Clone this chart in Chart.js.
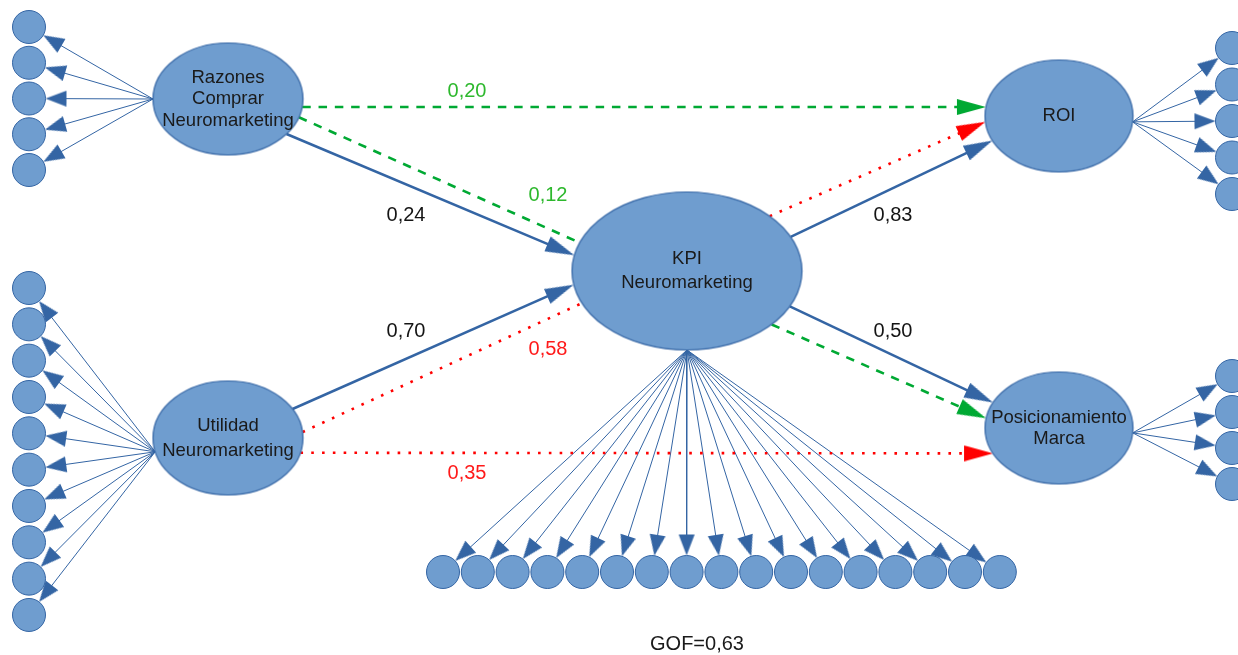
<!DOCTYPE html>
<html>
<head>
<meta charset="utf-8">
<script src="https://cdn.jsdelivr.net/npm/chart.js@4.4.1/dist/chart.umd.min.js"></script>
<style>
    html, body { margin: 0; padding: 0; background: #fff; }
    #wrap { width: 1238px; height: 655px; }
</style>
</head>
<body>
<div id="wrap"><canvas id="pathChart" width="1238" height="655"></canvas></div>
<script>
// --- data ---
const latentNames = ['Razones\nComprar\nNeuromarketing', 'Utilidad\nNeuromarketing', 'KPI\nNeuromarketing', 'ROI', 'Posicionamiento\nMarca'];
const indicatorCounts = [5, 10, 17, 5, 4];
const pathFrom = [0, 0, 0, 1, 1, 1, 2, 2, 2, 2];
const pathTo = [2, 2, 3, 2, 2, 4, 3, 3, 4, 4];
const pathKind = ['direct', 'green', 'green', 'direct', 'red', 'red', 'direct', 'red', 'direct', 'green'];
const pathCoef = ['0,24', '0,12', '0,20', '0,70', '0,58', '0,35', '0,83', null, '0,50', null];
const gofText = 'GOF=0,63';

// --- layout (diagram pixels) ---
const latentCenter = [[228, 99], [228, 438], [687, 271], [1059, 116], [1059, 428]];
const latentRadius = [[75, 56], [75, 57], [115, 79], [74, 56], [74, 56]];
const latentLineHeight = [21.5, 25, 24, 22, 21];
const indicatorStart = [[29, 27], [29, 288], [443, 572], [1232, 48], [1232, 376]];
const indicatorStep = [[0, 35.75], [0, 36.33], [34.8, 0], [0, 36.5], [0, 36]];
const indicatorPort = [180, 166, 90, 6, 5];
const pathPorts = [[38.7, 191.5], [19, 201], [8.2, 189.2], [-30.6, 170], [-6, 156], [15, 153], [-25.6, 154], [-44, 174], [26.6, 207], [42.6, 190]];
const pathArrow = [true, false, true, true, false, true, true, true, true, true];
const labelPos = [[406, 215], [548, 195], [467, 91], [406, 331], [548, 349], [467, 473], [893, 215], null, [893, 331], null];

const FILL = '#6f9dcf';
const LINE = '#3465a4';
const kindStyle = {
    direct: { color: LINE, dash: [], width: 2.5, text: '#141414' },
    green: { color: '#00a933', dash: [8.5, 7.8], width: 2.6, text: '#2db82d' },
    red: { color: '#ff0000', dash: [2.6, 8.2], width: 2.6, text: '#ff1a1a' }
};
const INDICATOR_R = 16.5;

function port(i, deg) {
    const t = deg * Math.PI / 180;
    return { x: latentCenter[i][0] + latentRadius[i][0] * Math.cos(t), y: latentCenter[i][1] + latentRadius[i][1] * Math.sin(t) };
}

function ellipseImage(rx, ry) {
    const c = document.createElement('canvas');
    c.width = Math.ceil(rx * 2 + 3);
    c.height = Math.ceil(ry * 2 + 3);
    const g = c.getContext('2d');
    g.beginPath();
    g.ellipse(c.width / 2, c.height / 2, rx, ry, 0, 0, Math.PI * 2);
    g.fillStyle = FILL;
    g.fill();
    g.lineWidth = 1.2;
    g.strokeStyle = LINE;
    g.stroke();
    return c;
}

function arrowImage(len, half, color) {
    const c = document.createElement('canvas');
    c.width = len;
    c.height = Math.ceil(half * 2);
    const g = c.getContext('2d');
    g.beginPath();
    g.moveTo(0, 0);
    g.lineTo(len, c.height / 2);
    g.lineTo(0, c.height);
    g.closePath();
    g.fillStyle = color;
    g.fill();
    return c;
}

const bigArrow = {
    direct: arrowImage(29, 8, LINE),
    green: arrowImage(29, 8, '#00a933'),
    red: arrowImage(29, 8, '#ff0000')
};
const smallArrow = arrowImage(21, 8, LINE);

const datasets = [];
const arrowPoints = [];

function addArrowHead(p1, p2, img) {
    const dx = p2.x - p1.x, dy = p2.y - p1.y;
    const d = Math.hypot(dx, dy);
    arrowPoints.push({
        x: p2.x - dx / d * img.width / 2,
        y: p2.y - dy / d * img.width / 2,
        img: img,
        rot: Math.atan2(dy, dx) * 180 / Math.PI
    });
    // line stops inside the arrow head
    return { x: p2.x - dx / d * img.width * 0.7, y: p2.y - dy / d * img.width * 0.7 };
}

// indicators + measurement arrows
const indicatorPoints = [];
for (let i = 0; i < indicatorCounts.length; i++) {
    const from = port(i, indicatorPort[i]);
    for (let k = 0; k < indicatorCounts[i]; k++) {
        const cx = indicatorStart[i][0] + indicatorStep[i][0] * k;
        const cy = indicatorStart[i][1] + indicatorStep[i][1] * k;
        indicatorPoints.push({ x: cx, y: cy });
        const dx = cx - from.x, dy = cy - from.y;
        const d = Math.hypot(dx, dy);
        const tip = { x: cx - dx / d * INDICATOR_R, y: cy - dy / d * INDICATOR_R };
        const end = addArrowHead(from, tip, smallArrow);
        datasets.push({
            data: [from, end],
            showLine: true,
            borderColor: LINE,
            borderWidth: 1,
            pointRadius: 0,
            order: 4
        });
    }
}

// structural paths
for (let p = 0; p < pathFrom.length; p++) {
    const st = kindStyle[pathKind[p]];
    const a = port(pathFrom[p], pathPorts[p][0]);
    let b = port(pathTo[p], pathPorts[p][1]);
    if (pathArrow[p]) b = addArrowHead(a, b, bigArrow[pathKind[p]]);
    datasets.push({
        data: [a, b],
        showLine: true,
        borderColor: st.color,
        borderWidth: st.width,
        borderDash: st.dash,
        borderCapStyle: 'butt',
        pointRadius: 0,
        order: 3
    });
}

datasets.push({
    data: arrowPoints,
    pointStyle: c => c.raw.img,
    rotation: c => c.raw.rot,
    pointRadius: 5,
    order: 2
});

datasets.push({
    data: indicatorPoints,
    pointStyle: 'circle',
    pointRadius: INDICATOR_R,
    backgroundColor: FILL,
    borderColor: LINE,
    borderWidth: 1,
    order: 1
});

const ellipseImgs = latentRadius.map(r => ellipseImage(r[0], r[1]));
datasets.push({
    data: latentCenter.map(c => ({ x: c[0], y: c[1] })),
    pointStyle: c => ellipseImgs[c.dataIndex],
    pointRadius: 5,
    order: 0
});

const textPlugin = {
    id: 'diagramText',
    afterDatasetsDraw(chart) {
        const ctx = chart.ctx;
        const xs = chart.scales.x, ys = chart.scales.y;
        ctx.save();
        ctx.textAlign = 'center';
        ctx.textBaseline = 'middle';
        ctx.font = '18.5px "Liberation Sans", Arial, sans-serif';
        ctx.fillStyle = '#1a1a1a';
        latentNames.forEach((name, i) => {
            const lines = name.split('\n');
            const lh = latentLineHeight[i];
            const x = xs.getPixelForValue(latentCenter[i][0]);
            const y0 = ys.getPixelForValue(latentCenter[i][1]) - (lines.length - 1) * lh / 2;
            lines.forEach((l, k) => ctx.fillText(l, x, y0 + k * lh));
        });
        ctx.font = '20px "Liberation Sans", Arial, sans-serif';
        pathCoef.forEach((coef, p) => {
            if (!coef) return;
            ctx.fillStyle = kindStyle[pathKind[p]].text;
            ctx.fillText(coef, xs.getPixelForValue(labelPos[p][0]), ys.getPixelForValue(labelPos[p][1]));
        });
        ctx.fillStyle = '#1a1a1a';
        ctx.fillText(gofText, xs.getPixelForValue(697), ys.getPixelForValue(644));
        ctx.restore();
    }
};

new Chart(document.getElementById('pathChart'), {
    type: 'scatter',
    data: { datasets: datasets },
    options: {
        responsive: false,
        animation: false,
        events: [],
        layout: { padding: 0, autoPadding: false },
        plugins: { legend: { display: false }, tooltip: { enabled: false } },
        scales: {
            x: { type: 'linear', min: 0, max: 1238, display: false },
            y: { type: 'linear', min: 0, max: 655, reverse: true, display: false }
        }
    },
    plugins: [textPlugin]
});
</script>
</body>
</html>
